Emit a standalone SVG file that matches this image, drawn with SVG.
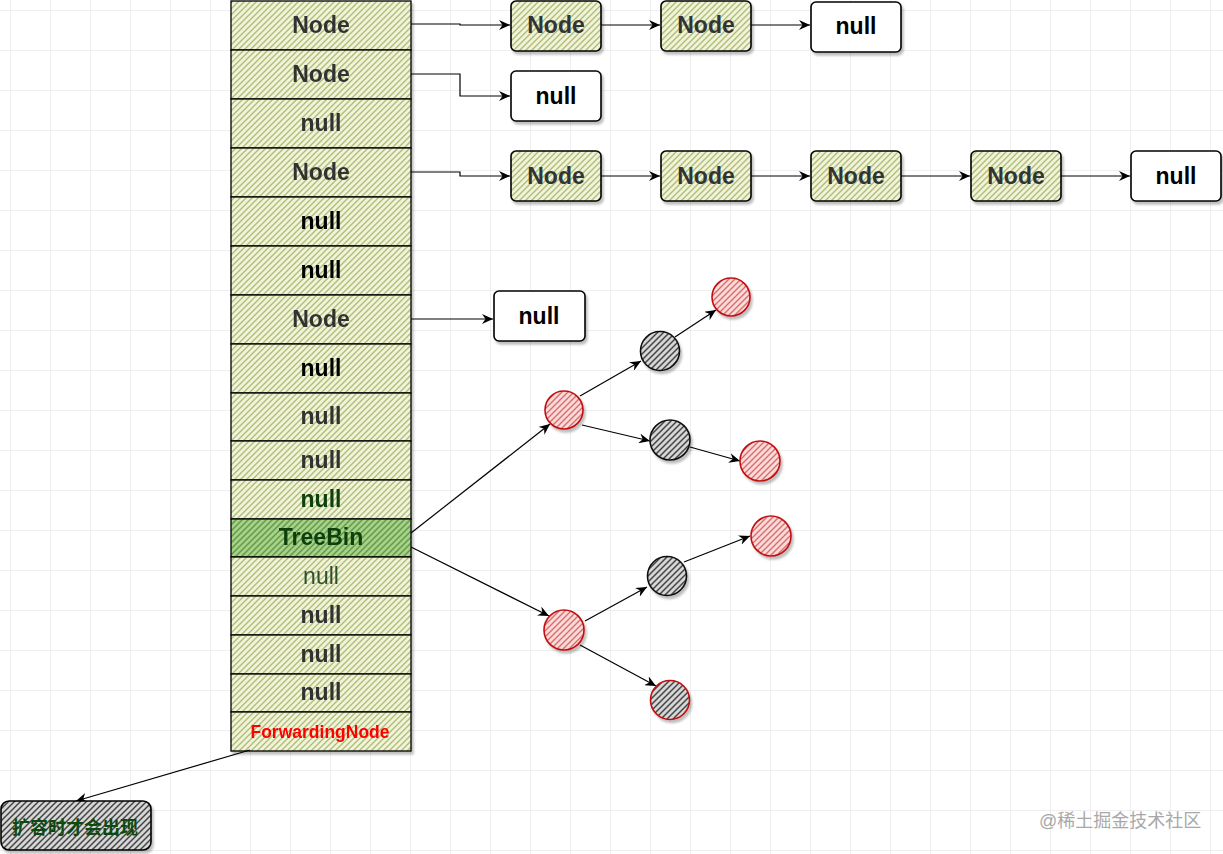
<svg xmlns="http://www.w3.org/2000/svg" width="1223" height="854" viewBox="0 0 1223 854">
<defs>
  <pattern id="grid" patternUnits="userSpaceOnUse" x="10" y="10" width="40" height="40">
    <path d="M0,0 H40 M0,0 V40" stroke="#e0e0e0" stroke-width="1" fill="none"/>
  </pattern>
  <pattern id="hY" patternUnits="userSpaceOnUse" width="6" height="6">
    <rect width="6" height="6" fill="#f1f3e0"/>
    <path d="M-1,1 L1,-1 M0,6 L6,0 M5,7 L7,5" stroke="#b1bf6c" stroke-width="1.4"/>
  </pattern>
  <pattern id="hG" patternUnits="userSpaceOnUse" width="6" height="6">
    <rect width="6" height="6" fill="#a9d08e"/>
    <path d="M-1,1 L1,-1 M0,6 L6,0 M5,7 L7,5" stroke="#5e9e3e" stroke-width="1.5"/>
  </pattern>
  <pattern id="hR" patternUnits="userSpaceOnUse" width="6" height="6">
    <rect width="6" height="6" fill="#f8dcdc"/>
    <path d="M-1,1 L1,-1 M0,6 L6,0 M5,7 L7,5" stroke="#e06b6b" stroke-width="1.4"/>
  </pattern>
  <pattern id="hK" patternUnits="userSpaceOnUse" width="6" height="6">
    <rect width="6" height="6" fill="#d6d6d6"/>
    <path d="M-1,1 L1,-1 M0,6 L6,0 M5,7 L7,5" stroke="#444" stroke-width="1.5"/>
  </pattern>
  <filter id="sh" x="-20%" y="-20%" width="140%" height="140%">
    <feDropShadow dx="2" dy="3" stdDeviation="1" flood-color="#000" flood-opacity="0.25"/>
  </filter>
  <marker id="arr" markerUnits="userSpaceOnUse" markerWidth="12" markerHeight="10" refX="11" refY="5" orient="auto">
    <path d="M0,0 L11,5 L0,10 L3.5,5 Z" fill="#000"/>
  </marker>
  <style>
    .cell{fill:url(#hY);stroke:#000;stroke-width:1.3}
    .box{stroke:#000;stroke-width:1.6;filter:url(#sh)}
    .yb{fill:url(#hY)}
    .wb{fill:#fff}
    .t{font-family:"Liberation Sans",Arial,sans-serif;font-weight:bold;font-size:23px;text-anchor:middle;fill:#333}
    .tk{fill:#000}
    .tg{fill:#0d3f0d}
    .tn{font-weight:normal;fill:#2f4f2f}
    .tr{fill:#ff0000;font-size:17.5px}
    .red{fill:url(#hR);stroke:#c01010;stroke-width:1.6;filter:url(#sh)}
    .blk{fill:url(#hK);stroke:#111;stroke-width:1.6;filter:url(#sh)}
    .mix{fill:url(#hK);stroke:#c01010;stroke-width:1.6;filter:url(#sh)}
    .c{fill:none;stroke:#000;stroke-width:1.2;marker-end:url(#arr)}
  </style>
</defs>
<rect width="1223" height="854" fill="#fff"/>
<rect width="1223" height="854" fill="url(#grid)"/>

<g id="column" filter="url(#sh)">
  <g id="cell1"><rect class="cell" x="231" y="1" width="180" height="49"/><text class="t" x="321" y="33">Node</text></g>
  <g id="cell2"><rect class="cell" x="231" y="50" width="180" height="49"/><text class="t" x="321" y="82">Node</text></g>
  <g id="cell3"><rect class="cell" x="231" y="99" width="180" height="49"/><text class="t" x="321" y="131">null</text></g>
  <g id="cell4"><rect class="cell" x="231" y="148" width="180" height="49"/><text class="t" x="321" y="180">Node</text></g>
  <g id="cell5"><rect class="cell" x="231" y="197" width="180" height="49"/><text class="t tk" x="321" y="229">null</text></g>
  <g id="cell6"><rect class="cell" x="231" y="246" width="180" height="49"/><text class="t tk" x="321" y="278">null</text></g>
  <g id="cell7"><rect class="cell" x="231" y="295" width="180" height="49"/><text class="t" x="321" y="327">Node</text></g>
  <g id="cell8"><rect class="cell" x="231" y="344" width="180" height="49"/><text class="t tk" x="321" y="376">null</text></g>
  <g id="cell9"><rect class="cell" x="231" y="393" width="180" height="48"/><text class="t" x="321" y="424">null</text></g>
  <g id="cell10"><rect class="cell" x="231" y="441" width="180" height="39"/><text class="t" x="321" y="468">null</text></g>
  <g id="cell11"><rect class="cell" x="231" y="480" width="180" height="39"/><text class="t tg" x="321" y="507">null</text></g>
  <g id="treebin"><rect class="cell" style="fill:url(#hG)" x="231" y="519" width="180" height="38"/><text class="t tg" x="321" y="545">TreeBin</text></g>
  <g id="cell13"><rect class="cell" x="231" y="557" width="180" height="39"/><text class="t tn" x="321" y="584">null</text></g>
  <g id="cell14"><rect class="cell" x="231" y="596" width="180" height="39"/><text class="t" x="321" y="623">null</text></g>
  <g id="cell15"><rect class="cell" x="231" y="635" width="180" height="39"/><text class="t" x="321" y="662">null</text></g>
  <g id="cell16"><rect class="cell" x="231" y="674" width="180" height="38"/><text class="t" x="321" y="700">null</text></g>
  <g id="forwarding"><rect class="cell" x="231" y="712" width="180" height="39"/><text class="t tr" x="320" y="738">ForwardingNode</text></g>
</g>

<g id="connectors">
  <path class="c" d="M411,24 H460 V25 H510"/>
  <path class="c" d="M411,74 H460 V96 H510"/>
  <path class="c" d="M411,172 H460 V176 H510"/>
  <path class="c" d="M411,319 H493"/>
  <path class="c" d="M601,25 H660"/>
  <path class="c" d="M751,25 H810"/>
  <path class="c" d="M601,176 H660"/>
  <path class="c" d="M751,176 H810"/>
  <path class="c" d="M901,176 H970"/>
  <path class="c" d="M1061,176 H1130"/>
  <path class="c" d="M411,533 L550,424"/>
  <path class="c" d="M411,547 L549,616"/>
  <path class="c" d="M580,396 L641,361"/>
  <path class="c" d="M675,337 L716,310"/>
  <path class="c" d="M582,425 L650,441"/>
  <path class="c" d="M690,447 L740,461"/>
  <path class="c" d="M585,621 L647,587"/>
  <path class="c" d="M684,562 L750,536"/>
  <path class="c" d="M580,645 L656,686"/>
  <path class="c" d="M250,750 L76,801"/>
</g>

<g id="n1a"><rect class="box yb" x="511" y="1" width="90" height="50" rx="5"/><text class="t" x="556" y="33">Node</text></g>
<g id="n1b"><rect class="box yb" x="661" y="1" width="90" height="50" rx="5"/><text class="t" x="706" y="33">Node</text></g>
<g id="n1c"><rect class="box wb" x="811" y="2" width="90" height="50" rx="5"/><text class="t tk" x="856" y="34">null</text></g>
<g id="n2a"><rect class="box wb" x="511" y="71" width="90" height="50" rx="5"/><text class="t tk" x="556" y="104">null</text></g>
<g id="n4a"><rect class="box yb" x="511" y="151" width="90" height="50" rx="5"/><text class="t" x="556" y="184">Node</text></g>
<g id="n4b"><rect class="box yb" x="661" y="151" width="90" height="50" rx="5"/><text class="t" x="706" y="184">Node</text></g>
<g id="n4c"><rect class="box yb" x="811" y="151" width="90" height="50" rx="5"/><text class="t" x="856" y="184">Node</text></g>
<g id="n4d"><rect class="box yb" x="971" y="151" width="90" height="50" rx="5"/><text class="t" x="1016" y="184">Node</text></g>
<g id="n4e"><rect class="box wb" x="1131" y="151" width="90" height="50" rx="5"/><text class="t tk" x="1176" y="184">null</text></g>
<g id="n7a"><rect class="box wb" x="494" y="291" width="91" height="50" rx="5"/><text class="t tk" x="539" y="324">null</text></g>

<g id="treeA"><circle class="red" cx="564" cy="410" r="19"/></g>
<g id="treeB"><circle class="blk" cx="660" cy="351" r="19.5"/></g>
<g id="treeC"><circle class="red" cx="731" cy="297" r="19"/></g>
<g id="treeD"><circle class="blk" cx="670" cy="440" r="20"/></g>
<g id="treeE"><circle class="red" cx="760" cy="461" r="20"/></g>
<g id="treeF"><circle class="red" cx="564" cy="630" r="20"/></g>
<g id="treeG"><circle class="blk" cx="667" cy="576" r="19.5"/></g>
<g id="treeH"><circle class="red" cx="771" cy="536" r="20"/></g>
<g id="treeI"><circle class="mix" cx="670" cy="700" r="19.5"/></g>

<g id="note"><rect class="box" style="fill:url(#hK)" x="1" y="801" width="150" height="49" rx="8"/><text x="75" y="834" font-family="'Liberation Sans','Noto Sans CJK SC',sans-serif" font-weight="bold" font-size="18" text-anchor="middle" fill="#0d4a0d">扩容时才会出现</text></g>

<text x="1039" y="827" font-family="'Liberation Sans','Noto Sans CJK SC',sans-serif" font-size="18" fill="#a8a8a8">@稀土掘金技术社区</text>
</svg>
